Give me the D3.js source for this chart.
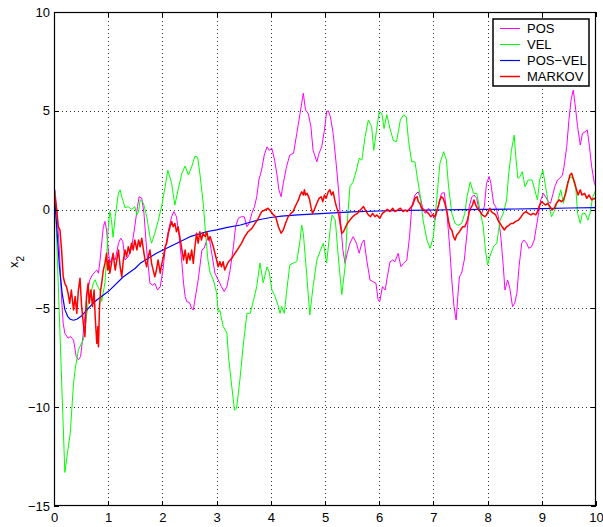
<!DOCTYPE html>
<html>
<head>
<meta charset="utf-8">
<script src="https://cdnjs.cloudflare.com/ajax/libs/d3/7.8.5/d3.min.js"></script>
<style>
body { margin: 0; background: #fff; }
text { font-family: "Liberation Sans", Arial, Helvetica, sans-serif; font-size: 13px; fill: #000; }
</style>
</head>
<body>
<div id="chart"></div>
<script>
// values, [t, x2]
var posData = [[0,1.0],[0.02,1.0],[0.06,-0.36],[0.1,-2.05],[0.14,-4.57],[0.17,-5.75],[0.2,-6.26],[0.26,-6.5],[0.31,-6.43],[0.36,-6.6],[0.41,-7.44],[0.45,-7.6],[0.49,-7.44],[0.54,-6.26],[0.57,-5.42],[0.61,-4.24],[0.66,-3.56],[0.71,-3.3],[0.76,-3.14],[0.79,-3.06],[0.82,-3.22],[0.85,-2.55],[0.88,-1.7],[0.91,-0.87],[0.94,-0.6],[0.97,-1.03],[1.0,-2.04],[1.03,-2.72],[1.08,-2.38],[1.13,-2.55],[1.19,-1.7],[1.23,-1.45],[1.27,-1.62],[1.31,-2.55],[1.37,-2.38],[1.43,-1.96],[1.49,-0.87],[1.54,0.15],[1.57,0.65],[1.62,0.57],[1.66,-0.19],[1.71,-2.04],[1.77,-3.73],[1.82,-3.82],[1.86,-3.73],[1.91,-4.07],[1.96,-3.9],[2.01,-3.06],[2.05,-2.04],[2.1,-1.2],[2.17,-0.36],[2.21,-0.1],[2.26,-0.36],[2.31,-1.37],[2.36,-2.72],[2.39,-3.73],[2.42,-4.4],[2.45,-4.66],[2.5,-4.7],[2.54,-5.0],[2.57,-5.08],[2.66,-3.56],[2.73,-2.04],[2.77,-1.96],[2.82,-1.54],[2.86,-1.37],[2.91,-2.21],[2.97,-3.22],[3.03,-3.56],[3.09,-3.9],[3.14,-4.15],[3.19,-3.9],[3.25,-3.06],[3.31,-1.88],[3.35,-0.87],[3.4,-0.44],[3.46,-0.36],[3.51,-0.36],[3.56,-0.87],[3.6,-0.7],[3.65,-0.19],[3.7,0.15],[3.74,0.65],[3.78,1.5],[3.83,2.0],[3.88,2.76],[3.93,3.18],[3.97,3.0],[4.02,3.1],[4.07,2.5],[4.11,1.84],[4.15,1.0],[4.19,0.65],[4.23,1.33],[4.29,2.17],[4.35,2.76],[4.42,2.85],[4.48,3.86],[4.54,4.87],[4.6,5.89],[4.64,5.04],[4.69,4.87],[4.74,4.2],[4.78,3.0],[4.85,2.42],[4.89,2.85],[4.94,3.18],[4.99,4.03],[5.03,4.95],[5.06,5.0],[5.1,4.7],[5.15,3.86],[5.2,2.5],[5.25,1.0],[5.29,-0.7],[5.33,-2.04],[5.37,-2.72],[5.41,-2.21],[5.46,-1.7],[5.52,-1.37],[5.58,-1.7],[5.63,-2.21],[5.68,-1.7],[5.72,-1.54],[5.77,-2.55],[5.83,-3.56],[5.89,-3.65],[5.94,-3.73],[5.98,-4.57],[6.01,-4.66],[6.06,-3.9],[6.11,-4.07],[6.15,-3.4],[6.2,-2.64],[6.25,-2.55],[6.29,-2.64],[6.35,-2.21],[6.4,-2.89],[6.45,-2.72],[6.51,-2.55],[6.56,-1.37],[6.6,0.15],[6.66,0.74],[6.72,0.9],[6.77,0.49],[6.81,-0.02],[6.85,-0.19],[6.91,0.07],[6.97,-0.19],[7.03,-0.53],[7.09,0.23],[7.15,0.82],[7.2,0.86],[7.25,-0.19],[7.3,-1.88],[7.34,-3.56],[7.38,-4.91],[7.42,-5.59],[7.45,-4.41],[7.48,-3.4],[7.52,-3.22],[7.57,-2.55],[7.62,-1.2],[7.66,0.15],[7.71,0.65],[7.75,0.74],[7.8,0.57],[7.84,-0.02],[7.89,-0.19],[7.94,0.15],[7.98,1.33],[8.03,1.67],[8.06,1.33],[8.11,0.32],[8.15,0.15],[8.2,-0.36],[8.25,-1.54],[8.29,-2.89],[8.32,-4.07],[8.37,-3.56],[8.41,-3.98],[8.46,-4.91],[8.5,-4.74],[8.54,-4.24],[8.58,-2.89],[8.63,-1.7],[8.67,-1.54],[8.72,-1.7],[8.76,-1.96],[8.81,-1.88],[8.86,-1.54],[8.9,-0.87],[8.95,-0.02],[8.98,0.49],[9.03,0.82],[9.07,0.65],[9.12,0.4],[9.16,0.32],[9.21,0.82],[9.24,1.16],[9.29,1.5],[9.33,1.58],[9.38,1.75],[9.41,2.17],[9.46,3.18],[9.5,4.53],[9.54,5.55],[9.58,6.05],[9.62,5.2],[9.66,4.2],[9.71,3.27],[9.75,3.86],[9.8,3.94],[9.84,4.03],[9.88,3.18],[9.92,2.17],[9.97,1.33],[10,1.16]]

var velData = [[0,1.0],[0.02,0.8],[0.2,-13.3],[0.3,-11.3],[0.36,-8.8],[0.39,-8.1],[0.45,-7.1],[0.51,-6.75],[0.54,-6.6],[0.57,-6.1],[0.6,-5.4],[0.63,-4.7],[0.66,-4.4],[0.73,-3.7],[0.76,-3.55],[0.79,-3.8],[0.85,-4.1],[0.88,-4.65],[0.94,-3.7],[0.97,-2.55],[1.0,-0.9],[1.03,-0.1],[1.06,-0.5],[1.09,-1.4],[1.13,-0.35],[1.19,0.85],[1.22,1.0],[1.25,0.65],[1.31,0.1],[1.37,0.15],[1.43,0],[1.49,0.15],[1.53,-0.27],[1.56,-0.1],[1.59,0.5],[1.65,0.33],[1.71,-0.35],[1.77,-1.37],[1.8,-1.7],[1.86,-1.2],[1.92,-0.6],[1.99,0.23],[2.05,1.16],[2.1,2.0],[2.17,1.33],[2.23,0.23],[2.29,1.0],[2.36,1.85],[2.42,2.2],[2.48,1.75],[2.54,2.17],[2.6,2.7],[2.65,2.65],[2.69,1.85],[2.76,0.15],[2.79,-1.0],[2.84,-2.55],[2.88,-3.2],[2.94,-3.56],[3.0,-4.2],[3.03,-5.2],[3.06,-5.1],[3.12,-5.9],[3.19,-6.25],[3.22,-7.45],[3.28,-8.96],[3.33,-10.15],[3.37,-10.05],[3.43,-8.6],[3.49,-6.9],[3.56,-5.25],[3.62,-5.25],[3.68,-4.6],[3.74,-3.9],[3.8,-2.7],[3.86,-3.7],[3.93,-2.9],[3.97,-3.15],[4.02,-4.07],[4.08,-4.4],[4.14,-4.9],[4.17,-5.25],[4.2,-4.9],[4.25,-5.25],[4.29,-4.2],[4.35,-2.8],[4.42,-2.7],[4.48,-2.63],[4.54,-1.54],[4.57,-0.78],[4.6,-1.2],[4.66,-3.2],[4.72,-5.33],[4.78,-3.9],[4.85,-2.55],[4.91,-2.1],[4.97,-1.7],[5.03,-2.7],[5.1,-0.87],[5.13,-0.27],[5.19,-0.53],[5.25,-2.55],[5.31,-4.3],[5.37,-2.9],[5.41,-0.68],[5.46,1.16],[5.52,1.41],[5.58,2.0],[5.63,2.6],[5.68,2.5],[5.74,3.7],[5.8,4.53],[5.86,4.2],[5.9,3.0],[5.95,4.0],[6.0,4.95],[6.05,4.87],[6.09,4.1],[6.14,4.8],[6.2,4.1],[6.26,3.5],[6.32,3.43],[6.39,4.53],[6.45,4.8],[6.5,4.7],[6.54,3.5],[6.6,2.42],[6.66,2.42],[6.7,1.67],[6.75,0.83],[6.81,-0.53],[6.88,-1.54],[6.94,-1.96],[7.0,-1.37],[7.06,0.48],[7.12,2.34],[7.19,2.93],[7.24,2.5],[7.28,1.16],[7.34,-0.19],[7.4,-0.7],[7.46,-0.8],[7.52,-0.7],[7.58,-0.19],[7.62,0.65],[7.68,1.4],[7.74,0.82],[7.8,0.82],[7.86,-0.02],[7.92,-0.86],[7.96,-2.05],[8.0,-2.8],[8.04,-2.38],[8.11,-1.87],[8.17,-1.7],[8.23,-0.53],[8.29,-0.19],[8.35,0.48],[8.39,1.84],[8.44,3.0],[8.49,3.77],[8.52,2.68],[8.56,1.58],[8.6,1.67],[8.64,1.92],[8.69,1.16],[8.75,1.5],[8.82,1.5],[8.87,1.0],[8.92,0.49],[8.96,1.5],[9.02,2.0],[9.07,1.16],[9.12,0.32],[9.18,-0.36],[9.24,-0.02],[9.3,0.49],[9.35,1.0],[9.4,0.32],[9.44,1.0],[9.49,1.5],[9.54,1.67],[9.58,1.5],[9.63,1.0],[9.66,-0.19],[9.71,-0.69],[9.75,-0.19],[9.8,-0.19],[9.85,-0.53],[9.89,-0.19],[9.94,0.65],[10,1.0]]

var posVelData = [[0,1.0],[0.05,-0.87],[0.1,-2.9],[0.15,-4.24],[0.2,-5.05],[0.25,-5.4],[0.3,-5.55],[0.36,-5.6],[0.42,-5.55],[0.5,-5.4],[0.6,-5.1],[0.7,-4.8],[0.8,-4.55],[0.9,-4.35],[1.0,-4.15],[1.28,-3.4],[1.5,-2.97],[1.59,-2.72],[1.89,-2.21],[2.2,-1.79],[2.51,-1.37],[2.81,-1.12],[3.0,-1.03],[3.2,-0.9],[3.44,-0.78],[3.8,-0.5],[4.0,-0.4],[4.2,-0.33],[4.5,-0.27],[5.0,-0.19],[5.5,-0.12],[6.0,-0.07],[6.5,-0.04],[7.0,-0.02],[7.5,0.0],[8.0,0.01],[8.5,0.03],[9.0,0.05],[9.5,0.08],[10,0.1]]

var markovData = [[0,1.0],[0.05,0],[0.08,-0.87],[0.11,-1.03],[0.14,-2.04],[0.17,-3.4],[0.2,-3.73],[0.23,-3.9],[0.26,-4.24],[0.29,-4.74],[0.32,-4.07],[0.36,-5.08],[0.39,-4.4],[0.42,-5.25],[0.45,-4.07],[0.48,-3.48],[0.51,-4.91],[0.54,-5.75],[0.57,-6.43],[0.6,-4.4],[0.63,-3.73],[0.65,-4.74],[0.68,-4.07],[0.71,-4.91],[0.74,-4.07],[0.76,-5.42],[0.79,-6.77],[0.81,-5.92],[0.82,-6.94],[0.84,-4.91],[0.86,-4.07],[0.88,-3.73],[0.91,-3.06],[0.94,-2.72],[0.97,-2.21],[0.99,-3.06],[1.01,-2.55],[1.03,-3.22],[1.06,-2.72],[1.09,-2.21],[1.13,-3.06],[1.16,-2.55],[1.19,-2.04],[1.22,-2.89],[1.25,-3.4],[1.28,-2.55],[1.31,-2.04],[1.34,-2.38],[1.37,-1.88],[1.4,-2.21],[1.43,-1.7],[1.46,-2.04],[1.49,-1.54],[1.53,-2.04],[1.56,-1.54],[1.59,-1.88],[1.62,-1.45],[1.65,-2.04],[1.68,-2.55],[1.71,-2.89],[1.74,-2.38],[1.77,-2.04],[1.8,-2.72],[1.83,-3.06],[1.86,-3.4],[1.89,-3.06],[1.92,-2.55],[1.96,-3.22],[1.99,-2.72],[2.02,-2.38],[2.05,-1.88],[2.08,-1.7],[2.11,-1.2],[2.14,-0.87],[2.17,-0.6],[2.2,-0.87],[2.23,-0.7],[2.26,-1.12],[2.29,-0.87],[2.32,-1.37],[2.36,-2.04],[2.39,-2.55],[2.42,-2.04],[2.45,-2.72],[2.48,-2.21],[2.51,-2.55],[2.54,-2.04],[2.57,-2.72],[2.6,-1.88],[2.63,-1.2],[2.66,-1.7],[2.69,-1.12],[2.72,-1.54],[2.75,-1.2],[2.79,-1.37],[2.82,-1.12],[2.85,-1.54],[2.88,-1.37],[2.94,-1.88],[3.0,-2.55],[3.03,-2.89],[3.06,-2.64],[3.09,-2.89],[3.12,-2.64],[3.15,-3.06],[3.19,-2.8],[3.22,-2.64],[3.28,-2.46],[3.34,-2.21],[3.4,-1.96],[3.46,-1.7],[3.52,-1.37],[3.58,-1.12],[3.65,-0.95],[3.71,-0.7],[3.77,-0.44],[3.83,-0.1],[3.89,-0.02],[3.95,0.07],[4.0,-0.1],[4.05,-0.27],[4.09,-0.36],[4.14,-0.87],[4.19,-1.2],[4.23,-1.03],[4.27,-0.7],[4.32,-0.36],[4.37,-0.19],[4.41,-0.1],[4.45,0.15],[4.48,0.32],[4.51,0.49],[4.54,0.74],[4.57,0.9],[4.6,0.74],[4.62,1.0],[4.64,0.74],[4.67,0.82],[4.71,0.57],[4.74,0.15],[4.77,-0.19],[4.8,-0.02],[4.85,0.32],[4.89,0.57],[4.93,0.65],[4.96,0.4],[4.99,0.74],[5.02,0.57],[5.06,0.9],[5.09,1.0],[5.12,0.74],[5.15,0.9],[5.18,0.49],[5.21,0.15],[5.25,-0.19],[5.27,-0.53],[5.29,-0.87],[5.31,-1.2],[5.34,-1.12],[5.37,-0.95],[5.41,-0.7],[5.46,-0.53],[5.51,-0.36],[5.55,-0.27],[5.6,-0.19],[5.63,-0.1],[5.68,0.07],[5.71,0.15],[5.76,-0.1],[5.8,-0.27],[5.84,-0.36],[5.88,-0.19],[5.92,-0.36],[5.96,-0.27],[6.01,-0.44],[6.06,-0.19],[6.1,-0.1],[6.15,0.02],[6.2,-0.1],[6.25,0.07],[6.29,-0.1],[6.34,-0.02],[6.39,0.07],[6.44,-0.1],[6.48,-0.02],[6.52,-0.1],[6.57,0.07],[6.62,0.23],[6.66,0.57],[6.7,0.65],[6.72,0.4],[6.75,0.32],[6.78,0.07],[6.83,-0.02],[6.87,-0.1],[6.91,-0.19],[6.95,-0.36],[6.99,-0.27],[7.03,-0.36],[7.06,-0.1],[7.09,0.15],[7.12,0.49],[7.15,0.65],[7.18,0.57],[7.21,0.32],[7.25,-0.1],[7.28,-0.6],[7.31,-0.95],[7.34,-1.03],[7.37,-1.37],[7.4,-1.54],[7.43,-1.29],[7.46,-1.2],[7.5,-1.03],[7.54,-0.87],[7.58,-0.87],[7.63,-0.53],[7.67,-0.02],[7.72,0.23],[7.75,0.49],[7.78,0.23],[7.81,0.07],[7.86,-0.1],[7.9,-0.27],[7.95,-0.36],[7.98,-0.27],[8.01,-0.1],[8.04,0.07],[8.07,-0.1],[8.11,-0.19],[8.15,-0.27],[8.19,-0.53],[8.23,-0.7],[8.27,-0.87],[8.31,-1.03],[8.35,-0.87],[8.4,-0.78],[8.43,-0.7],[8.47,-0.7],[8.52,-0.6],[8.57,-0.53],[8.62,-0.36],[8.66,-0.19],[8.71,-0.1],[8.75,-0.19],[8.8,-0.27],[8.84,-0.19],[8.89,-0.27],[8.92,-0.1],[8.96,0.23],[9.0,0.4],[9.03,0.32],[9.07,0.23],[9.11,0.32],[9.15,0.15],[9.19,-0.02],[9.23,0.07],[9.27,0.32],[9.32,0.49],[9.36,0.4],[9.4,0.49],[9.44,0.82],[9.48,1.33],[9.52,1.75],[9.55,1.84],[9.58,1.58],[9.61,1.33],[9.64,1.0],[9.67,0.74],[9.71,1.0],[9.74,0.74],[9.79,0.82],[9.83,0.57],[9.87,0.74],[9.92,0.49],[9.97,0.57],[10,0.49]]

var xTicks = [0, 1, 2, 3, 4, 5, 6, 7, 8, 9, 10]
var yTicks = [-15, -10, -5, 0, 5, 10]
var seriesNames = ["POS", "VEL", "POS\u2212VEL", "MARKOV"]

// drawing order is the legend order
var series = [
  {name: seriesNames[0], data: posData, color: "#ff00ff", width: 1},
  {name: seriesNames[1], data: velData, color: "#00ff00", width: 1},
  {name: seriesNames[2], data: posVelData, color: "#0000ff", width: 1.2},
  {name: seriesNames[3], data: markovData, color: "#ff0000", width: 1.5}
]

var width = 603, height = 527
var plot = {left: 54, right: 596, top: 12, bottom: 506}

var svg = d3.select("#chart")
  .append("svg")
    .attr("width", width)
    .attr("height", height)

var x = d3.scaleLinear().domain([0, 10]).range([plot.left, plot.right])
var y = d3.scaleLinear().domain([-15, 10]).range([plot.bottom, plot.top])

// dotted grid
svg.append("g")
    .attr("transform", "translate(0," + plot.bottom + ")")
    .call(d3.axisBottom(x).tickValues(xTicks.slice(1, -1)).tickSize(-(plot.bottom - plot.top)).tickFormat(""))
    .call(function(g) { g.select(".domain").remove() })
    .selectAll("line")
      .attr("stroke", "#333")
      .attr("stroke-dasharray", "1,3")
      .attr("shape-rendering", "crispEdges")

svg.append("g")
    .attr("transform", "translate(" + plot.left + ",0)")
    .call(d3.axisLeft(y).tickValues(yTicks.slice(1, -1)).tickSize(-(plot.right - plot.left)).tickFormat(""))
    .call(function(g) { g.select(".domain").remove() })
    .selectAll("line")
      .attr("stroke", "#333")
      .attr("stroke-dasharray", "1,3")
      .attr("shape-rendering", "crispEdges")

// lines
svg.append("clipPath").attr("id", "clip")
  .append("rect")
    .attr("x", plot.left).attr("y", plot.top)
    .attr("width", plot.right - plot.left).attr("height", plot.bottom - plot.top)

var line = d3.line()
    .x(function(d) { return x(d[0]) })
    .y(function(d) { return y(d[1]) })

svg.append("g")
    .attr("clip-path", "url(#clip)")
  .selectAll("path")
  .data(series)
  .enter()
  .append("path")
    .attr("d", function(d) { return line(d.data) })
    .attr("fill", "none")
    .attr("stroke", function(d) { return d.color })
    .attr("stroke-width", function(d) { return d.width })
    .attr("stroke-linejoin", "round")

// axes, ticks pointing inwards on all four sides
var fmt = function(d) { return d3.format("d")(d) }

svg.append("g")
    .attr("transform", "translate(0," + plot.bottom + ")")
    .call(d3.axisBottom(x).tickValues(xTicks).tickSizeInner(-5).tickSizeOuter(0).tickPadding(7).tickFormat(fmt))
    .call(function(g) { g.select(".domain").remove() })
    .call(function(g) { g.selectAll("text").style("font-size", "13px") })

svg.append("g")
    .attr("transform", "translate(0," + plot.top + ")")
    .call(d3.axisTop(x).tickValues(xTicks).tickSizeInner(-5).tickSizeOuter(0).tickFormat(""))
    .call(function(g) { g.select(".domain").remove() })

svg.append("g")
    .attr("transform", "translate(" + plot.left + ",0)")
    .call(d3.axisLeft(y).tickValues(yTicks).tickSizeInner(-5).tickSizeOuter(0).tickPadding(4).tickFormat(fmt))
    .call(function(g) { g.select(".domain").remove() })
    .call(function(g) { g.selectAll("text").style("font-size", "13px") })

svg.append("g")
    .attr("transform", "translate(" + plot.right + ",0)")
    .call(d3.axisRight(y).tickValues(yTicks).tickSizeInner(-5).tickSizeOuter(0).tickFormat(""))
    .call(function(g) { g.select(".domain").remove() })

svg.selectAll(".tick line").filter(function() { return !this.getAttribute("stroke-dasharray") })
    .attr("shape-rendering", "crispEdges")

// box
svg.append("rect")
    .attr("x", plot.left + 0.5).attr("y", plot.top + 0.5)
    .attr("width", plot.right - plot.left - 1).attr("height", plot.bottom - plot.top - 1)
    .attr("fill", "none")
    .attr("stroke", "#000")
    .attr("stroke-width", 1.2)

// y label
var ylab = svg.append("text")
    .attr("transform", "translate(18,262) rotate(-90)")
    .attr("text-anchor", "middle")
ylab.append("tspan").text("x")
ylab.append("tspan").attr("baseline-shift", "sub").style("font-size", "10px").text("2")

// legend
var legend = svg.append("g").attr("transform", "translate(493,19)")
legend.append("rect")
    .attr("width", 96).attr("height", 67)
    .attr("fill", "#fff")
    .attr("stroke", "#000")
    .attr("stroke-width", 1.5)

var items = legend.selectAll(".item")
  .data(series)
  .enter()
  .append("g")
    .attr("class", "item")
    .attr("transform", function(d, i) { return "translate(0," + (9.5 + i * 16) + ")" })

items.append("line")
    .attr("x1", 7).attr("x2", 27)
    .attr("stroke", function(d) { return d.color })
    .attr("stroke-width", function(d) { return d.width })

items.append("text")
    .attr("x", 34)
    .attr("dy", "0.36em")
    .text(function(d) { return d.name })
</script>
</body>
</html>
